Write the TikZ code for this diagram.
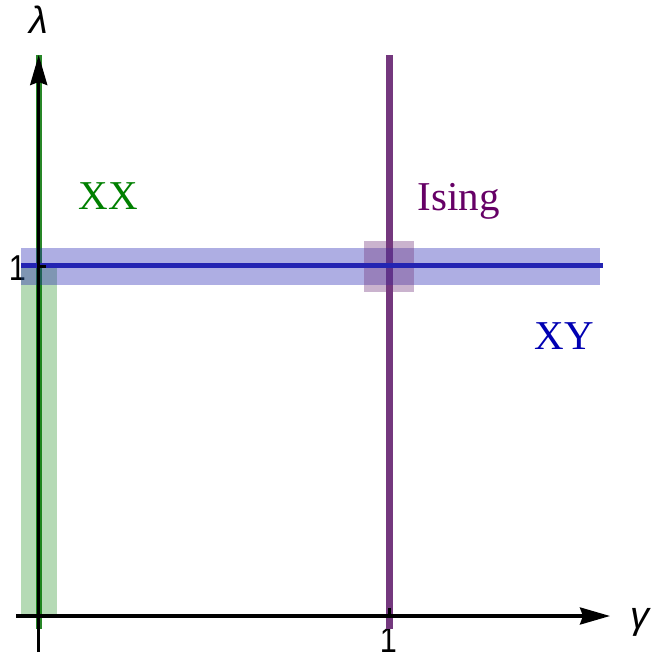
\documentclass[tikz,border=0pt]{standalone}
\usepackage{fontspec}
\setmainfont{Liberation Serif}
\newfontfamily\axisfont{Liberation Sans}
\usetikzlibrary{arrows.meta}
\definecolor{xxgreen}{RGB}{0,128,0}
\definecolor{xxline}{RGB}{40,135,40}
\definecolor{isingtext}{RGB}{102,0,102}
\definecolor{isingline}{RGB}{116,56,126}
\definecolor{xytext}{RGB}{0,0,178}
\definecolor{xyline}{RGB}{36,36,178}
\tikzset{
  lbl/.style={font=\fontsize{41}{45}\selectfont, inner sep=0pt, anchor=base},
  ticklbl/.style={font=\axisfont\fontsize{36}{38}\selectfont, inner sep=0pt},
  axlbl/.style={font=\axisfont\itshape\fontsize{38}{42}\selectfont, inner sep=0pt},
  axis/.style={line width=3.2pt, -{Stealth[length=30pt,width=17pt,inset=3pt]}},
  band/.style={opacity=0.37}
}
\begin{document}
\begin{tikzpicture}[x=1pt,y=-1pt]
\useasboundingbox (0,0) rectangle (659,659);
% tick labels (under the bands)
\node[ticklbl, anchor=base east, xscale=0.85] (ylone) at (26,280) {1};
\node[ticklbl, anchor=base, xscale=0.85] (xlone) at (388.5,652) {1};
% lines
\draw[xxline, line width=6.5pt] (39,629) -- (39,55);
\draw[isingline, line width=7pt] (389.5,629) -- (389.5,55);
% bands
\fill[xxgreen, opacity=0.29] (21,266) rectangle (57,615);
\fill[xyline, band] (21,248) rectangle (600,284.5);
\fill[isingline, opacity=0.38] (364,241) rectangle (414,291.5);
\draw[xyline, line width=5.5pt] (21,265.5) -- (603,265.5);
% axes
\draw[axis] (16,616) -- (610,616);
\draw[axis] (38.7,652) -- (38.7,55);
\draw[line width=3pt] (38.7,266) -- (46,266);
\draw[line width=3pt] (389.5,616) -- (389.5,608);
% axis labels
\node[axlbl] (lam) at (39,20) {λ};
\node[axlbl] (gam) at (640,622) {γ};
% region labels
\node[lbl, text=xxgreen] (xx) at (108.5,209) {XX};
\node[lbl, text=isingtext] (ising) at (458.5,210) {Ising};
\node[lbl, text=xytext] (xy) at (564.5,349) {XY};
\end{tikzpicture}
\end{document}
